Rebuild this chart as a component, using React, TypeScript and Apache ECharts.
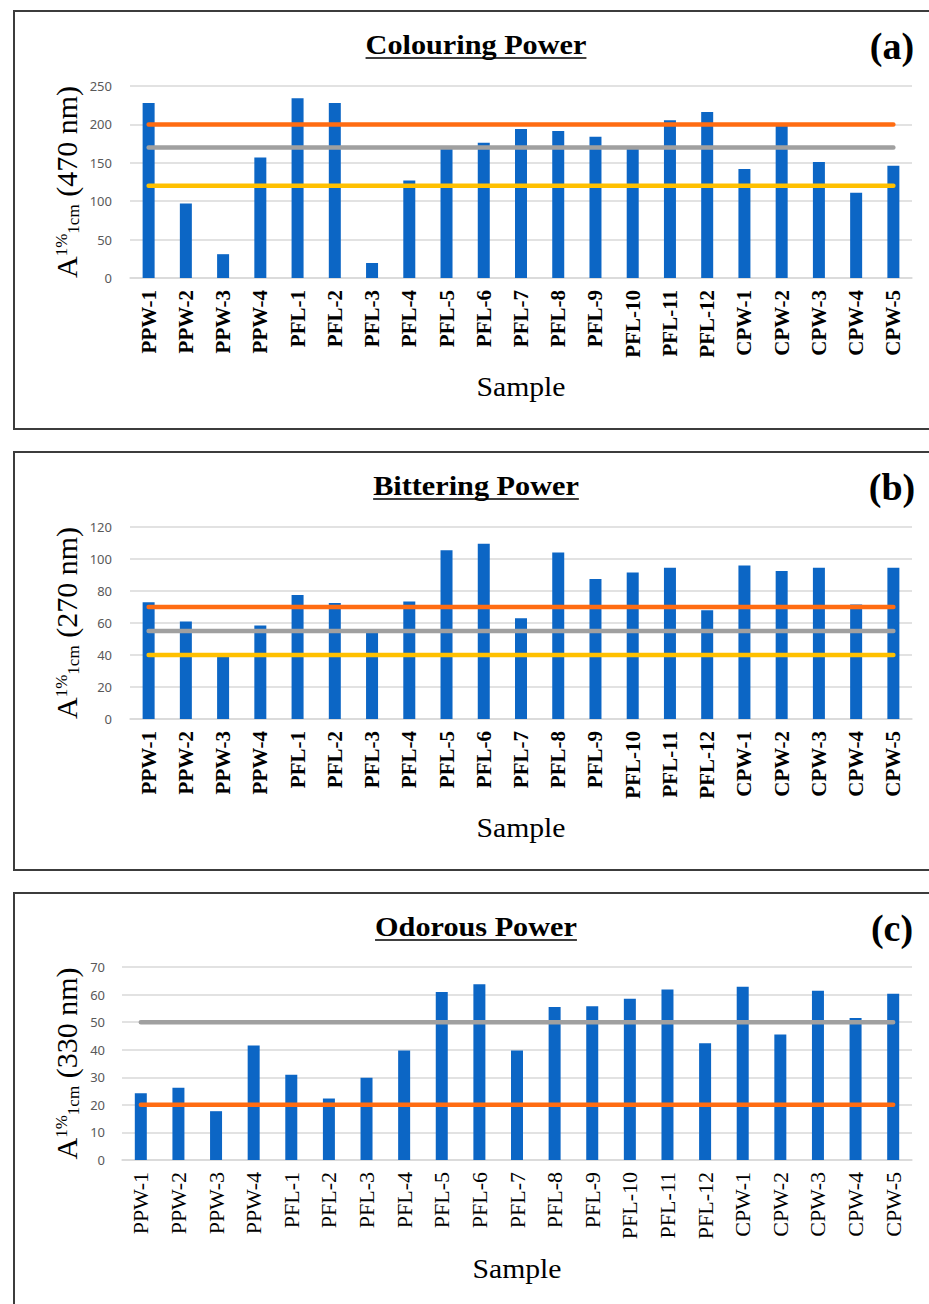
import React, { useEffect, useRef } from 'react';
import * as echarts from 'echarts';

const categories = [
  'PPW-1', 'PPW-2', 'PPW-3', 'PPW-4',
  'PFL-1', 'PFL-2', 'PFL-3', 'PFL-4', 'PFL-5', 'PFL-6', 'PFL-7', 'PFL-8', 'PFL-9', 'PFL-10', 'PFL-11', 'PFL-12',
  'CPW-1', 'CPW-2', 'CPW-3', 'CPW-4', 'CPW-5',
];

const colouringValues = [228, 97, 31, 157, 234, 228, 19.5, 127, 168, 176, 194, 191.5, 184, 168, 205.5, 216, 142, 198, 151, 111, 146];
const bitteringValues = [73, 61, 39, 58.5, 77.5, 72.5, 54, 73.5, 105.5, 109.5, 63, 104, 87.5, 91.5, 94.5, 68, 96, 92.5, 94.5, 71.5, 94.5];
const odorousValues = [24.2, 26.2, 17.7, 41.5, 30.9, 22.3, 29.8, 39.7, 60.9, 63.7, 39.7, 55.5, 55.8, 58.5, 61.8, 42.3, 62.8, 45.5, 61.4, 51.5, 60.3];

// reference (threshold) levels per panel
const colouringRefs = [200, 170, 120];
const bitteringRefs = [70, 55, 40];
const odorousRefs = [50, 20];

const colouringTicks = { max: 250, interval: 50 };
const bitteringTicks = { max: 120, interval: 20 };
const odorousTicks = { max: 70, interval: 10 };

const titles = ['Colouring Power', 'Bittering Power', 'Odorous Power'];
const panelLetters = ['(a)', '(b)', '(c)'];
const wavelengths = ['470 nm', '270 nm', '330 nm'];
const xAxisName = 'Sample';

const ORANGE = '#ff6c12';
const GRAY = '#a0a0a0';
const YELLOW = '#ffc000';
const BAR = '#0c66c5';
const GRID = '#d9d9d9';
const SERIF_NAME = 'Liberation Serif';
const SERIF = '"Liberation Serif", "Times New Roman", serif';
const SANS = '"Noto Sans", "DejaVu Sans", sans-serif';

const panels = [
  { values: colouringValues, refs: colouringRefs, refColors: [ORANGE, GRAY, YELLOW], ticks: colouringTicks, off: 0, gridLeft: 130, gridTop: 86, gridHeight: 192, labelBold: true, labelSize: 21, sampleX: 521 },
  { values: bitteringValues, refs: bitteringRefs, refColors: [ORANGE, GRAY, YELLOW], ticks: bitteringTicks, off: 441, gridLeft: 130, gridTop: 527, gridHeight: 192, labelBold: true, labelSize: 21, sampleX: 521 },
  { values: odorousValues, refs: odorousRefs, refColors: [GRAY, ORANGE], ticks: odorousTicks, off: 882, gridLeft: 122, gridTop: 967, gridHeight: 193, labelBold: false, labelSize: 22, sampleX: 517 },
];

let measureCtx: CanvasRenderingContext2D | null = null;
function textWidth(text: string, font: string): number {
  if (!measureCtx) measureCtx = document.createElement('canvas').getContext('2d');
  if (!measureCtx) return text.length * 10;
  measureCtx.font = font;
  return measureCtx.measureText(text).width;
}

export default function App() {
  const ref = useRef<HTMLDivElement>(null);

  useEffect(() => {
    if (!ref.current) return;
    const chart = echarts.init(ref.current, null, { renderer: 'svg' });

    const grid: any[] = [];
    const xAxis: any[] = [];
    const yAxis: any[] = [];
    const series: any[] = [];
    const graphic: any[] = [];

    const TITLE_SIZE = 28;
    const TITLE_SX = 1.08;
    const BIG = 30;
    const SMALL = 17;

    panels.forEach((p, i) => {
      grid.push({ left: p.gridLeft, right: 17, top: p.gridTop, height: p.gridHeight });
      xAxis.push({
        type: 'category',
        gridIndex: i,
        data: categories,
        axisTick: { show: false },
        axisLine: { lineStyle: { color: GRID, width: 1.5 } },
        axisLabel: {
          rotate: 90,
          interval: 0,
          margin: 12,
          fontFamily: SERIF,
          fontWeight: p.labelBold ? 'bold' : 'normal',
          fontSize: p.labelSize,
          color: '#000',
        },
      });
      yAxis.push({
        type: 'value',
        gridIndex: i,
        min: 0,
        max: p.ticks.max,
        interval: p.ticks.interval,
        axisLine: { show: false },
        axisTick: { show: false },
        axisLabel: { fontFamily: SANS, fontSize: 13, color: '#595959', margin: i === 2 ? 17 : 18 },
        splitLine: { lineStyle: { color: GRID, width: 1.5 } },
      });
      series.push({
        type: 'bar',
        xAxisIndex: i,
        yAxisIndex: i,
        data: p.values,
        barWidth: 12,
        itemStyle: { color: BAR },
        z: 2,
      });
      p.refs.forEach((r, k) => {
        series.push({
          type: 'line',
          xAxisIndex: i,
          yAxisIndex: i,
          data: categories.map(() => r),
          symbol: 'none',
          lineStyle: { color: p.refColors[k], width: 4.5, cap: 'round' },
          z: 3,
        });
      });

      // panel border
      graphic.push({
        type: 'rect',
        shape: { x: 14, y: 11 + p.off, width: 960, height: i === 2 ? 600 : 418 },
        style: { fill: 'none', stroke: '#3c3c3c', lineWidth: 2 },
        silent: true,
      });
      // title + underline
      const tW = textWidth(titles[i], `bold ${TITLE_SIZE}px "${SERIF_NAME}"`) * TITLE_SX;
      graphic.push({
        type: 'text',
        x: 476,
        y: 44 + p.off,
        scaleX: TITLE_SX,
        style: { text: titles[i], fontFamily: SERIF, fontWeight: 'bold', fontSize: TITLE_SIZE, fill: '#000', align: 'center', verticalAlign: 'middle' },
      });
      graphic.push({
        type: 'line',
        shape: { x1: 476 - tW / 2, y1: 58 + p.off, x2: 476 + tW / 2, y2: 58 + p.off },
        style: { stroke: '#000', lineWidth: 1.5 },
      });
      // panel letter
      graphic.push({
        type: 'text',
        x: 892,
        y: 46 + p.off,
        style: { text: panelLetters[i], fontFamily: SERIF, fontWeight: 'bold', fontSize: 38, fill: '#000', align: 'center', verticalAlign: 'middle' },
      });
      // x axis name
      graphic.push({
        type: 'text',
        x: p.sampleX,
        y: 387 + p.off,
        scaleX: 1.1,
        style: { text: xAxisName, fontFamily: SERIF, fontSize: 27, fill: '#000', align: 'center', verticalAlign: 'middle' },
      });

      // y axis name: A^{1%}_{1cm} (xxx nm), rotated to read bottom-to-top
      const parts = [
        { text: 'A', size: BIG, dy: 0 },
        { text: '1%', size: SMALL, dy: -4.5 },
        { text: '1cm', size: SMALL, dy: 7.5 },
        { text: ' (' + wavelengths[i] + ')', size: BIG, dy: 0 },
      ];
      const widths = parts.map((pt) => textWidth(pt.text, `${pt.size}px "${SERIF_NAME}"`));
      const total = widths.reduce((a, b) => a + b, 0);
      let cx = -total / 2;
      const children: any[] = [];
      parts.forEach((pt, k) => {
        children.push({
          type: 'text',
          x: cx,
          y: pt.dy,
          style: { text: pt.text, fontFamily: SERIF, fontSize: pt.size, fill: '#000', align: 'left', verticalAlign: 'middle' },
        });
        cx += widths[k];
      });
      graphic.push({
        type: 'group',
        x: 66,
        y: p.gridTop + p.gridHeight / 2,
        rotation: Math.PI / 2,
        children,
      });
    });

    chart.setOption({
      animation: false,
      backgroundColor: '#fff',
      grid,
      xAxis,
      yAxis,
      series,
      graphic,
    });

    return () => chart.dispose();
  }, []);

  return <div ref={ref} style={{ position: 'absolute', left: 0, top: 0, width: 929, height: 1304, background: '#fff' }} />;
}
